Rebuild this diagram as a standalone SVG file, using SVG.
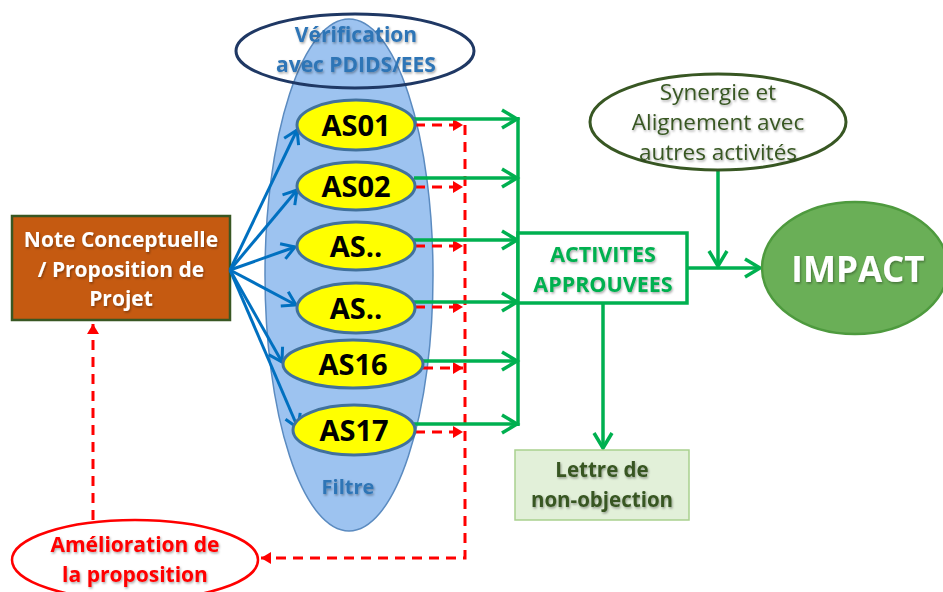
<svg xmlns="http://www.w3.org/2000/svg" width="943" height="592" viewBox="0 0 943 592">
<defs>
<style>
text{font-family:"Open Sans","Liberation Sans",sans-serif;text-anchor:middle;}
.b{font-weight:700;}
.as{fill:#FFFF00;stroke:#41719C;stroke-width:3;}
.ast{font-size:29px;font-weight:700;fill:#000;}
.blue{stroke:#0070C0;stroke-width:3;fill:none;marker-end:url(#ab);}
.grn{stroke:#00B050;stroke-width:3.5;fill:none;}
.grna{stroke:#00B050;stroke-width:3.5;fill:none;marker-end:url(#ag);}
.red{stroke:#FF0000;stroke-width:3;fill:none;stroke-dasharray:10 7;marker-end:url(#ar);}
</style>
<marker id="ab" markerUnits="userSpaceOnUse" markerWidth="24" markerHeight="24" viewBox="-20 -12 24 24" refX="0" refY="0" orient="auto" style="overflow:visible"><path d="M-13,-8 L0,0 L-13,8" fill="none" stroke="#0070C0" stroke-width="3"/></marker>
<marker id="ag" markerUnits="userSpaceOnUse" markerWidth="24" markerHeight="24" viewBox="-20 -12 24 24" refX="0" refY="0" orient="auto" style="overflow:visible"><path d="M-15,-9 L0,0 L-15,9" fill="none" stroke="#00B050" stroke-width="3.5"/></marker>
<marker id="ar" markerUnits="userSpaceOnUse" markerWidth="24" markerHeight="24" viewBox="-20 -12 24 24" refX="0" refY="0" orient="auto" style="overflow:visible"><path d="M-10,-6 L0,0 L-10,6 Z" fill="#FF0000"/></marker>
<filter id="sh" x="-10%" y="-10%" width="120%" height="130%"><feDropShadow dx="1" dy="1.5" stdDeviation="1" flood-color="#000" flood-opacity="0.35"/></filter>
</defs>

<g id="filtre">
<ellipse cx="349" cy="275" rx="84" ry="256" fill="#9DC3F0" stroke="#5B8BC0" stroke-width="1.5"/>
<text x="348" y="494" class="b" font-size="20" fill="#2E75B6" filter="url(#sh)">Filtre</text>
</g>

<g id="verification">
<ellipse cx="355" cy="51" rx="119" ry="37" fill="none" stroke="#1F3864" stroke-width="3"/>
<text x="356" y="42" class="b" font-size="21" fill="#2E75B6" filter="url(#sh)">Vérification</text>
<text x="356" y="72" class="b" font-size="21" fill="#2E75B6" filter="url(#sh)">avec PDIDS/EES</text>
</g>

<g id="note">
<rect x="12" y="216" width="218" height="104" fill="#C55A11" stroke="#385723" stroke-width="2.5"/>
<text x="121" y="247" class="b" font-size="21" fill="#fff" filter="url(#sh)">Note Conceptuelle</text>
<text x="121" y="277" class="b" font-size="21" fill="#fff" filter="url(#sh)">/ Proposition de</text>
<text x="121" y="306" class="b" font-size="21" fill="#fff" filter="url(#sh)">Projet</text>
</g>

<g id="connectors">
<path class="blue" d="M230,270 L297,130"/>
<path class="blue" d="M230,270 L297,190"/>
<path class="blue" d="M230,270 L295,247"/>
<path class="blue" d="M230,270 L296,305"/>
<path class="blue" d="M230,270 L282,362"/>
<path class="blue" d="M230,270 L298,428"/>

<path class="red" d="M415,125 L463,125"/>
<path class="red" d="M415,187 L463,187"/>
<path class="red" d="M415,246 L463,246"/>
<path class="red" d="M415,307 L463,307"/>
<path class="red" d="M423,368 L463,368"/>
<path class="red" d="M415,432 L463,432"/>
<path class="red" d="M465,125 L465,558 L261,558"/>
<path class="red" d="M93,520 L93,324"/>

<path class="grna" d="M414,119 L517,119"/>
<path class="grna" d="M414,178 L517,178"/>
<path class="grna" d="M414,240 L517,240"/>
<path class="grna" d="M414,302 L517,302"/>
<path class="grna" d="M422,361 L517,361"/>
<path class="grna" d="M414,424 L517,424"/>
<path class="grn" d="M518,117 L518,426"/>
<path class="grna" d="M687,268 L760,268"/>
<path class="grna" d="M718,170 L718,266"/>
<path class="grna" d="M603,303 L603,448"/>
</g>

<g id="as01"><ellipse class="as" cx="356" cy="125" rx="59" ry="25"/><text class="ast" x="356" y="136">AS01</text></g>
<g id="as02"><ellipse class="as" cx="356" cy="186" rx="59" ry="24"/><text class="ast" x="356" y="197">AS02</text></g>
<g id="as03"><ellipse class="as" cx="356" cy="246" rx="59" ry="24"/><text class="ast" x="356" y="257">AS..</text></g>
<g id="as04"><ellipse class="as" cx="356" cy="308" rx="59" ry="25"/><text class="ast" x="356" y="319">AS..</text></g>
<g id="as16"><ellipse class="as" cx="353" cy="364" rx="70" ry="24"/><text class="ast" x="353" y="375">AS16</text></g>
<g id="as17"><ellipse class="as" cx="354" cy="430" rx="61" ry="25"/><text class="ast" x="354" y="441">AS17</text></g>

<g id="activites">
<rect x="518" y="233" width="169" height="70" fill="#fff" stroke="#00B050" stroke-width="3.5"/>
<text x="603" y="262" class="b" font-size="21.5" fill="#00B050" filter="url(#sh)">ACTIVITES</text>
<text x="603" y="292" class="b" font-size="21.5" fill="#00B050" filter="url(#sh)">APPROUVEES</text>
</g>

<g id="synergie">
<ellipse cx="718" cy="122" rx="128" ry="48" fill="#fff" stroke="#385723" stroke-width="3"/>
<text x="718" y="100" font-size="22.5" fill="#385723" filter="url(#sh)">Synergie et</text>
<text x="718" y="130" font-size="22.5" fill="#385723" filter="url(#sh)">Alignement avec</text>
<text x="718" y="160" font-size="22.5" fill="#385723" filter="url(#sh)">autres activités</text>
</g>

<g id="impact">
<ellipse cx="855" cy="268" rx="93" ry="66" fill="#6AAF57" stroke="#4E9A3E" stroke-width="2.5"/>
<text x="858" y="282" class="b" font-size="35" fill="#fff" filter="url(#sh)">IMPACT</text>
</g>

<g id="lettre">
<rect x="515" y="450" width="174" height="70" fill="#E2F0D9" stroke="#A9D18E" stroke-width="1.5"/>
<text x="602" y="477" class="b" font-size="20.5" fill="#385723" filter="url(#sh)">Lettre de</text>
<text x="602" y="507" class="b" font-size="20.5" fill="#385723" filter="url(#sh)">non-objection</text>
</g>

<g id="amelioration">
<ellipse cx="135" cy="560" rx="123" ry="40" fill="#fff" stroke="#FF0000" stroke-width="2.5"/>
<text x="135" y="552" class="b" font-size="21" fill="#FF0000" filter="url(#sh)">Amélioration de</text>
<text x="135" y="582" class="b" font-size="21" fill="#FF0000" filter="url(#sh)">la proposition</text>
</g>
</svg>
